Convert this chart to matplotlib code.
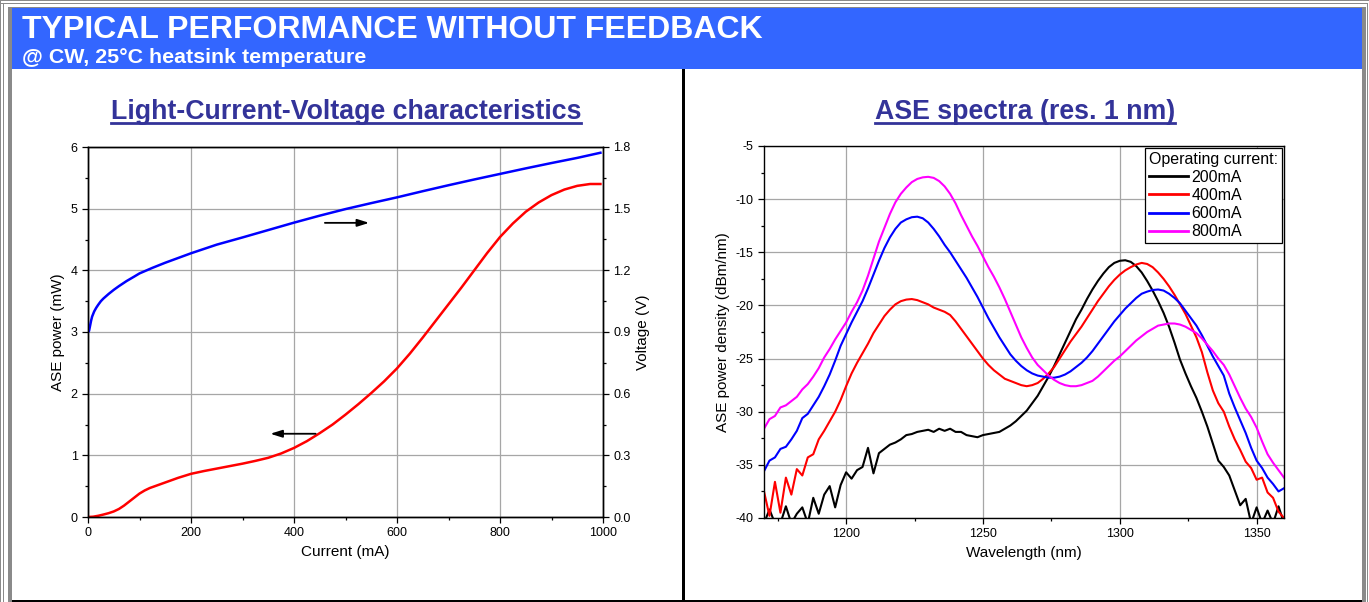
import numpy as np
import matplotlib
matplotlib.use("Agg")
import matplotlib.pyplot as plt
from matplotlib.patches import Rectangle
from matplotlib.lines import Line2D
from matplotlib.ticker import MultipleLocator, FormatStrFormatter

plt.rcParams['font.family'] = ['Liberation Sans', 'DejaVu Sans']
plt.rcParams['axes.unicode_minus'] = False

# ---- LIV data ----
current_p = [0, 10, 20, 30, 40, 50, 60, 70, 80, 90, 100, 110, 120, 130, 140, 150,
             160, 175, 200, 225, 250, 275, 300, 325, 350, 375, 400, 425, 450, 475,
             500, 525, 550, 575, 600, 625, 650, 675, 700, 725, 750, 775, 800, 825,
             850, 875, 900, 925, 950, 975, 995]
ase_power_mw = [0.0, 0.005, 0.02, 0.04, 0.062, 0.09, 0.13, 0.185, 0.25, 0.315, 0.38,
                0.43, 0.47, 0.50, 0.53, 0.56, 0.59, 0.635, 0.70, 0.745, 0.785, 0.825,
                0.865, 0.91, 0.96, 1.03, 1.12, 1.23, 1.36, 1.50, 1.66, 1.83, 2.01,
                2.20, 2.41, 2.65, 2.91, 3.18, 3.45, 3.72, 4.0, 4.28, 4.54, 4.76,
                4.95, 5.10, 5.22, 5.31, 5.37, 5.40, 5.40]
current_v = [0, 2, 4, 6, 8, 12, 16, 20, 25, 30, 40, 50, 60, 75, 90, 100, 125, 150,
             175, 200, 250, 300, 350, 400, 450, 500, 550, 600, 650, 700, 750, 800,
             850, 900, 950, 995]
voltage_v = [0.90, 0.905, 0.93, 0.955, 0.975, 1.0, 1.018, 1.033, 1.05, 1.063, 1.085,
             1.105, 1.123, 1.148, 1.17, 1.185, 1.212, 1.237, 1.26, 1.283, 1.325,
             1.36, 1.396, 1.432, 1.466, 1.498, 1.527, 1.555, 1.585, 1.614, 1.642,
             1.669, 1.696, 1.722, 1.747, 1.772]

# ---- ASE spectra (2 nm steps, 1170..1360 nm) ----
wavelength_nm = np.arange(1170, 1361, 2)
spec_200 = [-40.5, -39.2, -40.5, -40.5, -38.9, -40.5, -39.6, -39.0, -40.5, -38.1,
            -39.6, -37.8, -37.0, -39.0, -36.9, -35.7, -36.3, -35.5, -35.2, -33.4,
            -35.8, -33.9, -33.5, -33.1, -32.9, -32.6, -32.2, -32.1, -31.9, -31.8,
            -31.7, -31.9, -31.6, -31.8, -31.6, -31.9, -31.9, -32.2, -32.3, -32.4,
            -32.2, -32.1, -32.0, -31.9, -31.6, -31.3, -30.9, -30.4, -29.9, -29.2,
            -28.5, -27.6, -26.7, -25.7, -24.6, -23.5, -22.4, -21.3, -20.4, -19.4,
            -18.5, -17.7, -17.0, -16.4, -16.0, -15.8, -15.75, -15.9, -16.3, -16.9,
            -17.7, -18.6, -19.6, -20.7, -22.0, -23.5, -25.1, -26.4, -27.6, -28.7,
            -30.0, -31.4, -33.0, -34.6, -35.2, -36.0, -37.4, -38.8, -38.2, -40.5,
            -39.0, -40.5, -39.3, -40.5, -38.9, -40.5]
spec_400 = [-37.5, -39.8, -36.6, -39.5, -36.2, -37.8, -35.4, -36.0, -34.3, -34.0,
            -32.6, -31.8, -30.9, -30.0, -28.9, -27.6, -26.4, -25.4, -24.5, -23.6,
            -22.6, -21.8, -21.0, -20.4, -19.9, -19.6, -19.45, -19.4, -19.5, -19.7,
            -19.9, -20.2, -20.4, -20.6, -20.9, -21.5, -22.2, -22.9, -23.6, -24.3,
            -25.0, -25.6, -26.1, -26.5, -26.9, -27.1, -27.3, -27.5, -27.6, -27.5,
            -27.3, -26.9, -26.4, -25.8, -25.0, -24.2, -23.4, -22.7, -22.0, -21.2,
            -20.4, -19.6, -18.9, -18.2, -17.6, -17.1, -16.7, -16.4, -16.15, -16.0,
            -16.1, -16.4, -16.9, -17.5, -18.2, -19.0, -19.9, -20.8, -21.9, -23.0,
            -24.4, -26.3, -28.0, -29.2, -30.0, -31.4, -32.6, -33.6, -34.7, -35.3,
            -36.4, -36.2, -37.6, -38.1, -39.4, -40.0]
spec_600 = [-35.6, -34.6, -34.3, -33.5, -33.3, -32.6, -31.8, -30.6, -30.2, -29.4,
            -28.6, -27.6, -26.5, -25.2, -23.8, -22.7, -21.6, -20.6, -19.6, -18.4,
            -17.1, -15.8, -14.6, -13.6, -12.8, -12.2, -11.9, -11.7, -11.65, -11.8,
            -12.2, -12.8, -13.5, -14.3, -15.0, -15.8, -16.6, -17.4, -18.3, -19.2,
            -20.2, -21.2, -22.1, -23.0, -23.8, -24.6, -25.2, -25.7, -26.1, -26.4,
            -26.6, -26.7, -26.8, -26.8, -26.7, -26.5, -26.2, -25.8, -25.4, -24.9,
            -24.3, -23.6, -22.9, -22.2, -21.5, -20.9, -20.3, -19.8, -19.3, -18.9,
            -18.7, -18.55, -18.5, -18.6, -18.9, -19.3, -19.8, -20.5, -21.2, -21.9,
            -22.8, -23.8, -24.8, -25.7, -26.6, -28.3, -29.6, -30.8, -32.0, -33.4,
            -34.6, -35.3, -36.2, -36.8, -37.5, -37.2]
spec_800 = [-31.6, -30.7, -30.4, -29.6, -29.4, -29.0, -28.6, -27.9, -27.4, -26.7,
            -25.9, -24.9, -24.1, -23.2, -22.4, -21.6, -20.6, -19.7, -18.6, -17.2,
            -15.6, -14.0, -12.7, -11.4, -10.3, -9.5, -8.9, -8.4, -8.1, -7.95,
            -7.9, -8.0, -8.3, -8.8, -9.5, -10.4, -11.5, -12.5, -13.5, -14.4,
            -15.4, -16.4, -17.3, -18.3, -19.4, -20.6, -21.8, -23.0, -24.0, -24.9,
            -25.6, -26.1, -26.6, -27.0, -27.3, -27.5, -27.6, -27.6, -27.5, -27.3,
            -27.1, -26.7, -26.2, -25.7, -25.2, -24.8, -24.3, -23.8, -23.3, -22.9,
            -22.5, -22.2, -21.9, -21.8, -21.7, -21.7, -21.8, -22.0, -22.3, -22.6,
            -23.1, -23.7, -24.3, -25.0, -25.6, -26.5, -27.6, -28.7, -29.7, -30.5,
            -31.5, -32.8, -34.0, -34.8, -35.5, -36.2]
spec_labels = ["200mA", "400mA", "600mA", "800mA"]
spec_colors = ["black", "#ff0000", "#0000ff", "#ff00ff"]

W, H = 1369, 602
fig = plt.figure(figsize=(W / 100, H / 100), dpi=100)

def fx(px):
    return px / W

def fy(py):
    return 1 - py / H

def box(x0, y0, x1, y1, color):
    fig.add_artist(Rectangle((fx(x0), fy(y1)), fx(x1) - fx(x0), fy(y0) - fy(y1),
                             transform=fig.transFigure, color=color, lw=0, zorder=0))

# frame and header
grey = "#8a8a8a"
box(0, 0, W, 1, grey)
box(0, 0, 1, H, grey)
box(0, 3, W - 1, 4, grey)
box(3, 3, 4, H, grey)
box(W - 2, 3, W - 1, H, grey)
box(8, 8, 12, H, grey)
box(1362, 8, 1366, H, grey)
box(8, 7, 1366, 8, grey)
box(12, 8, 1362, 69, "#3366ff")
box(682, 69, 685, H, "black")
box(12, 600, 1362, H, "black")

fig.text(fx(22), fy(38), "TYPICAL PERFORMANCE WITHOUT FEEDBACK", color="white",
         fontsize=23, fontweight="bold", va="baseline", ha="left")
fig.text(fx(22), fy(63), "@ CW, 25°C heatsink temperature", color="white",
         fontsize=15.4, fontweight="bold", va="baseline", ha="left")

title_color = "#333399"
t1 = fig.text(fx(346), fy(119), "Light-Current-Voltage characteristics", color=title_color,
              fontsize=19.3, fontweight="bold", ha="center", va="baseline")
t2 = fig.text(fx(1025), fy(119), "ASE spectra (res. 1 nm)", color=title_color,
              fontsize=19.3, fontweight="bold", ha="center", va="baseline")

grid_kw = dict(color="#a6a6a6", lw=0.9)

# ---- left: LIV ----
ax1 = fig.add_axes([fx(88), fy(517), fx(603) - fx(88), fy(147) - fy(517)])
ax1.plot(current_p, ase_power_mw, color="#ff0000", lw=1.8)
ax1.set_xlim(0, 1000)
ax1.set_ylim(0, 6)
ax1.xaxis.set_major_locator(MultipleLocator(200))
ax1.xaxis.set_minor_locator(MultipleLocator(100))
ax1.yaxis.set_major_locator(MultipleLocator(1))
ax1.yaxis.set_minor_locator(MultipleLocator(0.5))
ax1.grid(True, which="major", **grid_kw)
ax1.set_axisbelow(True)
ax1.set_xlabel("Current (mA)", fontsize=11)
ax1.set_ylabel("ASE power (mW)", fontsize=11)

ax2 = ax1.twinx()
ax2.plot(current_v, voltage_v, color="#0000ff", lw=1.8)
ax2.set_ylim(0, 1.8)
ax2.yaxis.set_major_locator(MultipleLocator(0.3))
ax2.yaxis.set_minor_locator(MultipleLocator(0.15))
ax2.yaxis.set_major_formatter(FormatStrFormatter("%.1f"))
ax2.set_ylabel("Voltage (V)", fontsize=11)

arrow_kw = dict(arrowstyle="-|>,head_length=0.7,head_width=0.22", color="black",
                lw=1.3, shrinkA=0, shrinkB=0)
ax1.annotate("", xy=(546, 4.77), xytext=(460, 4.77), arrowprops=arrow_kw)
ax1.annotate("", xy=(354, 1.35), xytext=(442, 1.35), arrowprops=arrow_kw)

# ---- right: ASE spectra ----
ax3 = fig.add_axes([fx(764), fy(518), fx(1284) - fx(764), fy(146) - fy(518)])
for vals, lab, col in zip([spec_200, spec_400, spec_600, spec_800], spec_labels, spec_colors):
    ax3.plot(wavelength_nm, vals, color=col, lw=1.5, label=lab)
ax3.set_xlim(1170, 1360)
ax3.set_ylim(-40, -5)
ax3.xaxis.set_major_locator(MultipleLocator(50))
ax3.xaxis.set_minor_locator(MultipleLocator(25))
ax3.yaxis.set_major_locator(MultipleLocator(5))
ax3.yaxis.set_minor_locator(MultipleLocator(2.5))
ax3.grid(True, which="major", **grid_kw)
ax3.set_axisbelow(True)
ax3.set_xlabel("Wavelength (nm)", fontsize=11)
ax3.set_ylabel("ASE power density (dBm/nm)", fontsize=11)
leg = ax3.legend(title="Operating current:", loc="upper right", fontsize=11.5,
                 title_fontsize=11.5, frameon=True, fancybox=False, edgecolor="black",
                 framealpha=1, borderaxespad=0.1, handlelength=2.4, handletextpad=0.25,
                 labelspacing=0.2, borderpad=0.25, alignment="left")
leg.get_frame().set_linewidth(0.9)
for ln in leg.get_lines():
    ln.set_linewidth(2)

for ax in (ax1, ax2, ax3):
    ax.tick_params(which="major", direction="out", length=4, width=0.9, labelsize=9)
    ax.tick_params(which="minor", direction="out", length=2.5, width=0.9)
    for sp in ax.spines.values():
        sp.set_linewidth(1.0)

# underline the panel titles
fig.canvas.draw()
for t in (t1, t2):
    bb = t.get_window_extent()
    fig.add_artist(Line2D([bb.x0 / W, bb.x1 / W], [fy(123), fy(123)],
                          transform=fig.transFigure, color=title_color, lw=2))

fig.savefig("out.png", dpi=100)
